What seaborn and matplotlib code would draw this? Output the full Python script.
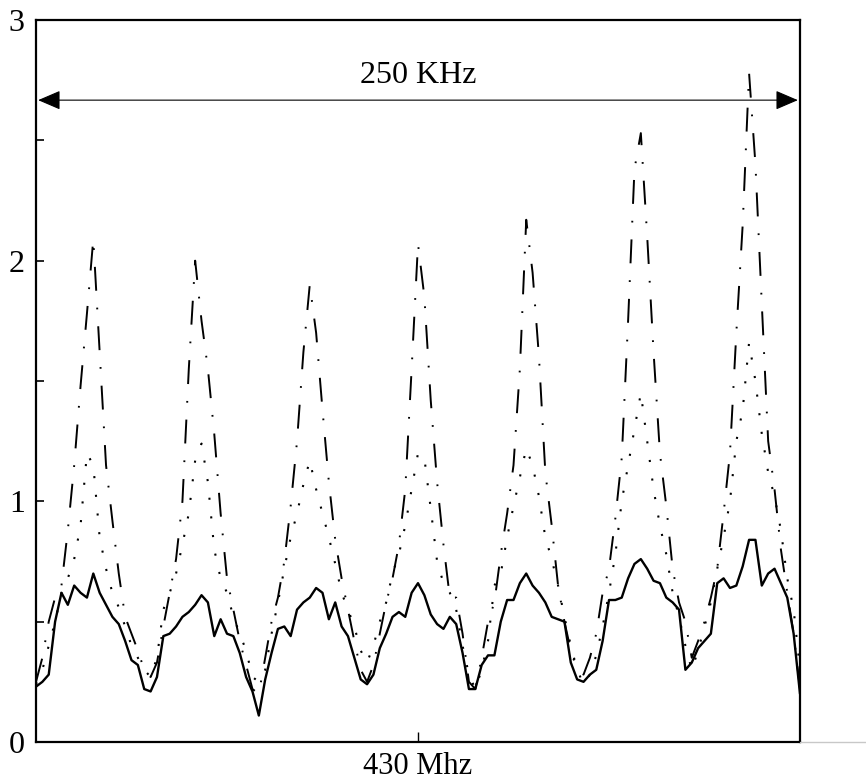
import numpy as np
import pandas as pd
import matplotlib
matplotlib.use("Agg")
import matplotlib.pyplot as plt
import seaborn as sns
from matplotlib.lines import Line2D

# frequency offset (kHz) around 430 MHz, 121 samples across the 250 kHz span
freq_khz = np.linspace(-125, 125, 121)

solid = [0.23, 0.25, 0.28, 0.50, 0.62, 0.57, 0.65, 0.62, 0.60, 0.70,
         0.62, 0.57, 0.52, 0.49, 0.42, 0.34, 0.32, 0.22, 0.21, 0.27,
         0.44, 0.45, 0.48, 0.52, 0.54, 0.57, 0.61, 0.58, 0.44, 0.51,
         0.45, 0.44, 0.37, 0.27, 0.21, 0.11, 0.26, 0.37, 0.47, 0.48,
         0.44, 0.55, 0.58, 0.60, 0.64, 0.62, 0.51, 0.58, 0.48, 0.44,
         0.35, 0.26, 0.24, 0.28, 0.39, 0.45, 0.52, 0.54, 0.52, 0.62,
         0.66, 0.61, 0.53, 0.49, 0.47, 0.52, 0.49, 0.37, 0.22, 0.22,
         0.32, 0.36, 0.36, 0.50, 0.59, 0.59, 0.66, 0.70, 0.65, 0.62,
         0.58, 0.52, 0.51, 0.50, 0.33, 0.26, 0.25, 0.28, 0.30, 0.42,
         0.59, 0.59, 0.60, 0.68, 0.74, 0.76, 0.72, 0.67, 0.66, 0.60,
         0.58, 0.55, 0.30, 0.33, 0.39, 0.42, 0.45, 0.66, 0.68, 0.64,
         0.65, 0.73, 0.84, 0.84, 0.65, 0.70, 0.72, 0.66, 0.60, 0.45,
         0.20]

dotted = [0.24, 0.30, 0.40, 0.50, 0.62, 0.68, 0.76, 0.90, 1.20, 1.15,
          0.85, 0.72, 0.62, 0.56, 0.48, 0.40, 0.35, 0.30, 0.27, 0.35,
          0.55, 0.62, 0.70, 0.82, 0.95, 1.17, 1.24, 1.08, 0.80, 0.68,
          0.62, 0.52, 0.45, 0.38, 0.27, 0.25, 0.30, 0.45, 0.58, 0.72,
          0.85, 0.95, 1.07, 1.17, 1.05, 0.95, 0.85, 0.74, 0.62, 0.55,
          0.48, 0.38, 0.33, 0.40, 0.50, 0.58, 0.70, 0.78, 0.90, 1.05,
          1.20, 1.18, 0.97, 0.75, 0.66, 0.62, 0.55, 0.40, 0.28, 0.22,
          0.30, 0.42, 0.65, 0.70, 0.85, 0.98, 1.10, 1.22, 1.15, 1.02,
          0.85, 0.76, 0.65, 0.52, 0.40, 0.30, 0.24, 0.28, 0.36, 0.48,
          0.62, 0.78, 1.00, 1.15, 1.30, 1.45, 1.25, 1.05, 0.90, 0.78,
          0.62, 0.52, 0.40, 0.30, 0.38, 0.48, 0.58, 0.72, 0.85, 1.00,
          1.25, 1.38, 1.66, 1.50, 1.28, 1.12, 1.02, 0.88, 0.68, 0.55,
          0.30]

dashdot = [0.25, 0.35, 0.50, 0.60, 0.65, 0.88, 1.15, 1.48, 1.78, 2.09,
           1.62, 1.15, 0.92, 0.70, 0.52, 0.45, 0.38, 0.30, 0.27, 0.33,
           0.48, 0.62, 0.76, 1.00, 1.55, 2.00, 1.75, 1.55, 1.28, 0.95,
           0.68, 0.55, 0.42, 0.32, 0.22, 0.20, 0.35, 0.50, 0.60, 0.75,
           0.98, 1.25, 1.62, 1.90, 1.70, 1.38, 1.08, 0.84, 0.68, 0.55,
           0.42, 0.30, 0.25, 0.32, 0.45, 0.58, 0.68, 0.82, 1.05, 1.55,
           2.07, 1.85, 1.42, 1.08, 0.82, 0.60, 0.60, 0.45, 0.25, 0.22,
           0.35, 0.50, 0.58, 0.78, 0.95, 1.15, 1.55, 2.17, 1.95, 1.60,
           1.12, 0.90, 0.65, 0.50, 0.38, 0.30, 0.28, 0.35, 0.45, 0.62,
           0.72, 0.93, 1.18, 1.75, 2.38, 2.53, 2.10, 1.62, 1.20, 0.98,
           0.72, 0.58, 0.50, 0.35, 0.42, 0.50, 0.60, 0.72, 0.95, 1.20,
           1.70, 2.15, 2.78, 2.40, 1.82, 1.25, 1.05, 0.80, 0.62, 0.45,
           0.22]

y_ticks = [0, 1, 2, 3]
y_tick_labels = ["0", "1", "2", "3"]
y_minor_ticks = [0.5, 1.5, 2.5]
x_ticks = [0]
x_tick_labels = ["430 Mhz"]
span_label = "250 KHz"
span_khz = (-124.3, 124.3)
span_level = 2.667

sns.set_style("ticks")
plt.rcParams["font.family"] = ["Liberation Serif", "DejaVu Serif"]

fig = plt.figure(figsize=(8.66, 7.83), dpi=100)
ax = fig.add_axes([36 / 866, 41 / 783, 764 / 866, 722 / 783])

df = pd.DataFrame({"f": freq_khz, "solid": solid, "dotted": dotted, "dashdot": dashdot})

sns.lineplot(data=df, x="f", y="dashdot", ax=ax, color="black", linewidth=1.4,
             linestyle=(0, (12.3, 8.7, 0.9, 8.7)))
sns.lineplot(data=df, x="f", y="dotted", ax=ax, color="black", linewidth=1.5,
             linestyle=(0, (1, 8)))
sns.lineplot(data=df, x="f", y="solid", ax=ax, color="black", linewidth=1.7)

ax.set_xlim(-125, 125)
ax.set_ylim(0, 3)
ax.set_xlabel("")
ax.set_ylabel("")
ax.set_yticks(y_ticks)
ax.set_yticklabels(y_tick_labels)
ax.set_yticks(y_minor_ticks, minor=True)
ax.set_xticks(x_ticks)
ax.set_xticklabels(x_tick_labels)

ax.tick_params(axis="y", which="both", direction="in", length=6, width=1.2,
               labelsize=23, pad=8, colors="black")
ax.tick_params(axis="x", which="both", direction="in", length=7, width=1.0,
               labelsize=22, pad=7, colors="black")
for sp in ax.spines.values():
    sp.set_visible(True)
    sp.set_color("black")
    sp.set_linewidth(1.6)

ax.annotate("", xy=(span_khz[0], span_level), xytext=(span_khz[1], span_level),
            arrowprops=dict(arrowstyle="<|-|>,head_length=0.7,head_width=0.3",
                            color="black", lw=0.8, shrinkA=0, shrinkB=0,
                            mutation_scale=20))
ax.text(0, 2.77, span_label, ha="center", va="center", fontsize=23, color="black")

fig.add_artist(Line2D([800 / 866, 1.0], [41 / 783, 41 / 783], color="#c8c8c8",
                      lw=1, transform=fig.transFigure))

fig.savefig("out.png", dpi=100)
